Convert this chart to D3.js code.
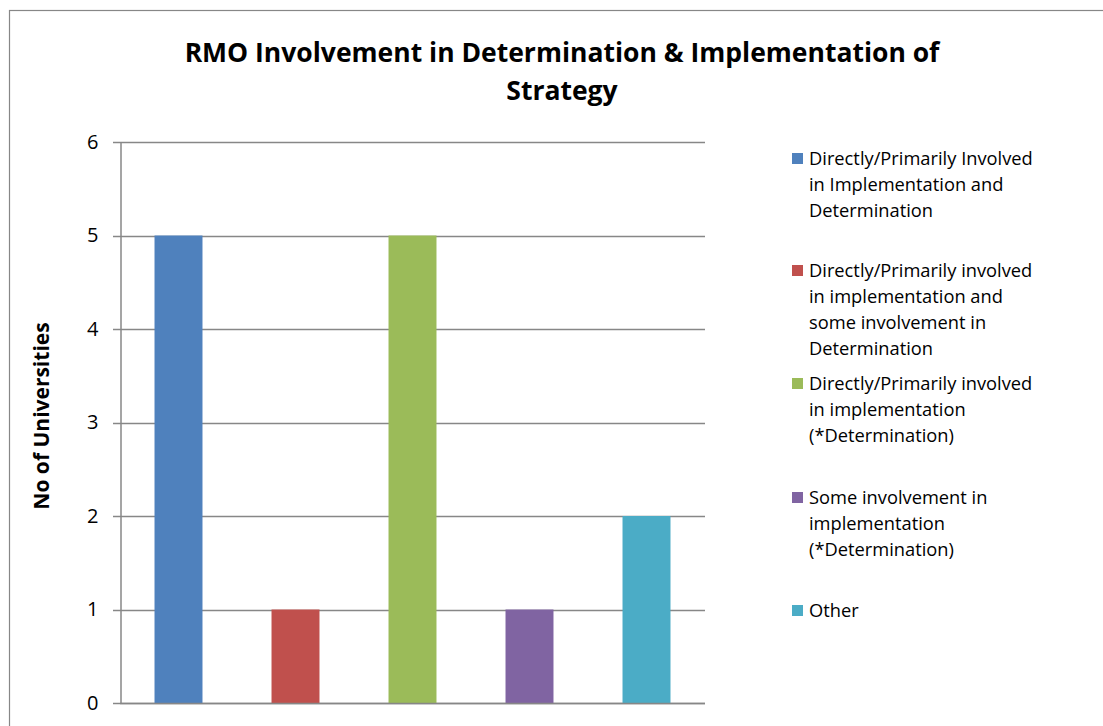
<!DOCTYPE html>
<html><head><meta charset="utf-8">
<script src="https://cdn.jsdelivr.net/npm/d3@7"></script>
<style>body{margin:0;background:#fff}svg{display:block}text{font-family:"Open Sans","Noto Sans",sans-serif}</style>
</head><body><svg id="c" width="1103" height="726"></svg>
<script>
const categories = ["Directly/Primarily Involved in Implementation and Determination",
  "Directly/Primarily involved in implementation and some involvement in Determination",
  "Directly/Primarily involved in implementation (*Determination)",
  "Some involvement in implementation (*Determination)",
  "Other"];
const values = [5, 1, 5, 1, 2];
const colors = ["#4f81bd", "#c0504d", "#9bbb59", "#8064a2", "#4bacc6"];
const legendLines = [
  ["Directly/Primarily Involved", "in Implementation and", "Determination"],
  ["Directly/Primarily involved", "in implementation and", "some involvement in", "Determination"],
  ["Directly/Primarily involved", "in implementation", "(*Determination)"],
  ["Some involvement in", "implementation", "(*Determination)"],
  ["Other"]
];
const yTicks = [0, 1, 2, 3, 4, 5, 6];
const titleLines = ["RMO Involvement in Determination & Implementation of", "Strategy"];
const yLabel = "No of Universities";

const svg = d3.select("#c");
svg.append("rect").attr("x", 9.5).attr("y", 10.5).attr("width", 1100).attr("height", 730)
  .attr("fill", "none").attr("stroke", "#878787").attr("stroke-width", 1.2);

const L = 120, R = 705, T = 142, B = 703;
const x = d3.scaleBand().domain(categories).range([L, R]).paddingInner(0.59).paddingOuter(0.295);
const y = d3.scaleLinear().domain([0, 6]).range([B, T]);

svg.append("g").selectAll("line").data(yTicks).join("line")
  .attr("x1", L - 7).attr("x2", R).attr("y1", d => Math.round(y(d)) + 0.5).attr("y2", d => Math.round(y(d)) + 0.5)
  .attr("stroke", "#878787").attr("stroke-width", 1.5);

svg.append("g").selectAll("rect").data(values).join("rect")
  .attr("x", (d, i) => x(categories[i])).attr("width", x.bandwidth())
  .attr("y", d => y(d)).attr("height", d => B - y(d))
  .attr("fill", (d, i) => colors[i]);

const yAxis = d3.axisLeft(y).tickValues(yTicks).tickSize(0).tickPadding(22).tickFormat(d3.format("d"));
const ga = svg.append("g").attr("transform", `translate(${L + 0.5},0)`).call(yAxis);
ga.select(".domain").attr("stroke", "#878787").attr("stroke-width", 1.5);
ga.selectAll("text").attr("font-size", 20).attr("fill", "#000").attr("font-family", '"Open Sans",sans-serif');

svg.append("line").attr("x1", L).attr("x2", R).attr("y1", B + 0.5).attr("y2", B + 0.5)
  .attr("stroke", "#878787").attr("stroke-width", 1.5);

svg.append("text").attr("text-anchor", "middle").attr("font-weight", "bold").attr("font-size", 26.5)
  .selectAll("tspan").data(titleLines).join("tspan")
  .attr("x", 562).attr("y", (d, i) => 62 + i * 38).text(d => d);

svg.append("text").attr("transform", "translate(49,416) rotate(-90)").attr("text-anchor", "middle")
  .attr("font-weight", "bold").attr("font-size", 21).text(yLabel);

const legendTop = [158, 270, 383, 497, 610];
const lg = svg.append("g");
legendLines.forEach((lines, i) => {
  lg.append("rect").attr("x", 792).attr("y", legendTop[i] - 5).attr("width", 11).attr("height", 11).attr("fill", colors[i]);
  lg.append("text").attr("font-size", 18.3).attr("fill", "#000")
    .selectAll("tspan").data(lines).join("tspan")
    .attr("x", 809).attr("y", (d, j) => legendTop[i] + 6.5 + j * 26).text(d => d);
});
</script></body></html>
